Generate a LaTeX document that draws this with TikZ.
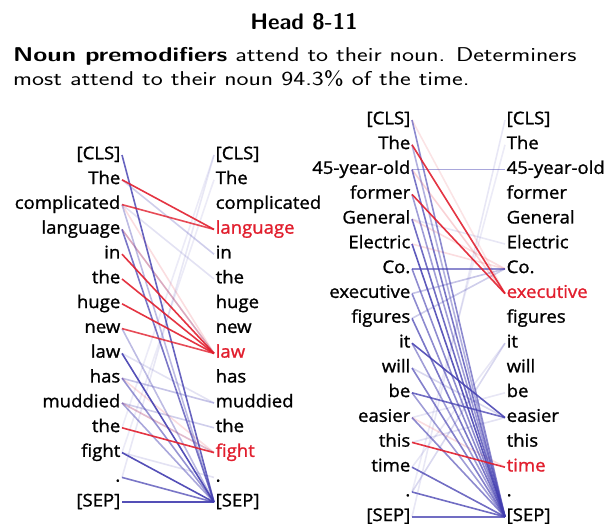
\documentclass[tikz,border=0pt]{standalone}
\usepackage{fontspec}
\newfontfamily\wordfont[FakeBold=1.2]{Open Sans}
\definecolor{attred}{RGB}{225,30,45}
\definecolor{attblue}{RGB}{65,60,175}
\newcommand\tokw[1]{\scalebox{1.06}[1]{#1}}
\tikzset{
  word/.style={font=\wordfont\fontsize{17.5}{20}\selectfont, inner sep=1.5pt, text height=12.5pt, text depth=4pt},
  lw/.style={word, anchor=east},
  rw/.style={word, anchor=west},
  rl/.style={draw=attred, line width=1.6pt, draw opacity=#1},
  bl/.style={draw=attblue, line width=1.6pt, draw opacity=#1},
}
\begin{document}
\begin{tikzpicture}[x=1pt,y=-1pt]
\useasboundingbox (0,0) rectangle (608,525);
\node[font=\sffamily\bfseries\fontsize{22.5}{26}\selectfont] (title) at (304,22) {Head 8-11};
\node[anchor=west, inner sep=0, font=\sffamily\fontsize{20}{23.5}\selectfont] (sub) at (13,69)
  {\scalebox{1.275}[1]{\begin{tabular}{@{}l@{}}\textbf{Noun premodifiers} attend to their noun. Determiners\\most attend to their noun 94.3\% of the time.\end{tabular}}};
% left panel
\foreach \w/\c [count=\i from 0] in {{[CLS]}/black,The/black,complicated/black,language/attred,in/black,the/black,huge/black,new/black,law/attred,has/black,muddied/black,the/black,fight/attred,./black,{[SEP]}/black}{
  \node[lw] (LA\i) at (122,155+24.8*\i) {\tokw{\w}};
  \node[rw, text=\c] (LB\i) at (214,155+24.8*\i) {\tokw{\w}};
}
% right panel
\foreach \w/\c [count=\i from 0] in {{[CLS]}/black,The/black,45-year-old/black,former/black,General/black,Electric/black,Co./black,executive/attred,figures/black,it/black,will/black,be/black,easier/black,this/black,time/attred,./black,{[SEP]}/black}{
  \node[lw] (RA\i) at (412,120+24.8*\i) {\tokw{\w}};
  \node[rw, text=\c] (RB\i) at (505,120+24.8*\i) {\tokw{\w}};
}
% left panel connectors
\foreach \a/\b/\o in {13/0/0.12,12/1/0.1,11/0/0.1,1/4/0.25,2/5/0.15,9/10/0.3,10/11/0.25,10/12/0.15,12/13/0.15,3/8/0.2,8/10/0.15}{
  \draw[bl=\o] (LA\a.east) -- (LB\b.west);
}
\foreach \a/\b/\o in {3/8/0.25,9/12/0.15,10/12/0.2,2/8/0.15}{
  \draw[rl=\o] (LA\a.east) -- (LB\b.west);
}
\foreach \a/\b/\o in {0/14/0.8,2/14/0.35,3/14/0.7,7/14/0.35,8/14/0.9,9/14/0.55,10/14/0.45,12/14/0.9,13/14/0.7,14/14/0.9}{
  \draw[bl=\o] (LA\a.east) -- (LB\b.west);
}
\foreach \a/\b/\o in {1/3/0.9,2/3/0.8,4/8/0.9,5/8/0.9,6/8/0.9,7/8/0.8,11/12/0.9}{
  \draw[rl=\o] (LA\a.east) -- (LB\b.west);
}
% right panel connectors
\foreach \a/\b/\o in {16/0/0.12,15/1/0.1,7/6/0.3,8/6/0.25,15/9/0.2,14/9/0.12,10/12/0.2,13/12/0.15,12/11/0.12,4/5/0.12}{
  \draw[bl=\o] (RA\a.east) -- (RB\b.west);
}
\foreach \a/\b/\o in {2/7/0.2,4/6/0.15,5/6/0.15,0/7/0.12,12/14/0.15}{
  \draw[rl=\o] (RA\a.east) -- (RB\b.west);
}
\foreach \a/\b/\o in {0/16/0.6,1/16/0.4,2/2/0.45,2/16/0.7,3/16/0.5,4/16/0.75,5/16/0.85,6/6/0.6,6/16/0.6,7/16/0.6,8/16/0.7,9/12/0.85,9/16/0.5,10/16/0.65,11/12/0.75,11/16/0.5,12/16/0.6,14/16/0.75,15/16/0.75,16/16/0.75}{
  \draw[bl=\o] (RA\a.east) -- (RB\b.west);
}
\foreach \a/\b/\o in {1/7/0.9,3/7/0.9,13/14/0.9}{
  \draw[rl=\o] (RA\a.east) -- (RB\b.west);
}
\end{tikzpicture}
\end{document}
